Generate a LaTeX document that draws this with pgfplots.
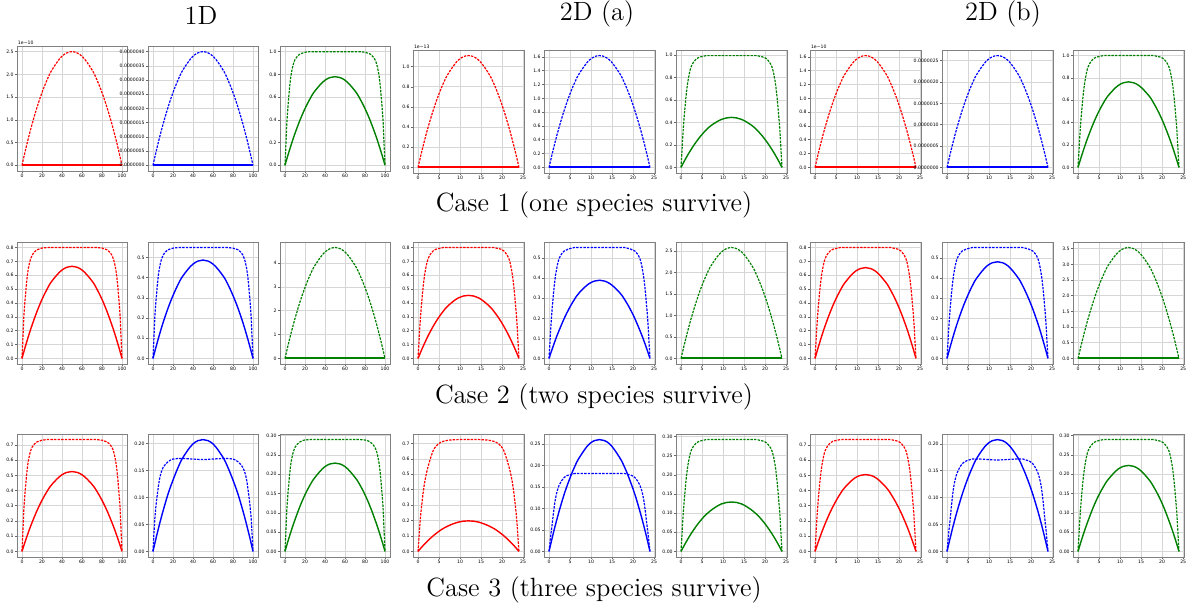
\documentclass[border=0pt]{standalone}
\usepackage{fontspec}
\usepackage{pgfplots}
\pgfplotsset{compat=1.18}
\usepackage{pgfplotstable}
\newfontfamily\tickfam{DejaVu Sans}
\newcommand\tickfont{\tickfam\fontsize{2.3}{2.8}\selectfont}
\newcommand\capfont{\fontsize{13.2}{15}\selectfont}
\definecolor{cr}{rgb}{1,0,0}
\definecolor{cb}{rgb}{0,0,1}
\definecolor{cg}{rgb}{0,0.5,0}

% row 1, 1D
\pgfplotstableread{
x rd bd gd gs
0 0 0 0 0
1 0.099 0.158 0.2 0.031
2 0.196 0.314 0.4 0.061
3 0.291 0.466 0.52 0.091
5 0.475 0.76 0.72 0.148
7 0.651 1.042 0.84 0.203
10 0.9 1.44 0.93 0.281
15 1.275 2.04 0.98 0.398
20 1.6 2.56 0.995 0.499
25 1.875 3.0 1 0.585
30 2.1 3.36 1 0.655
40 2.4 3.84 1 0.749
50 2.5 4.0 1 0.78
60 2.4 3.84 1 0.749
70 2.1 3.36 1 0.655
75 1.875 3.0 1 0.585
80 1.6 2.56 0.995 0.499
85 1.275 2.04 0.98 0.398
90 0.9 1.44 0.93 0.281
93 0.651 1.042 0.84 0.203
95 0.475 0.76 0.72 0.148
97 0.291 0.466 0.52 0.091
98 0.196 0.314 0.4 0.061
99 0.099 0.158 0.2 0.031
100 0 0 0 0
}\tA
% row 1, 2D (a)
\pgfplotstableread{
x rd bd gd gs
0 0 0 0 0
0.24 0.044 0.064 0.159 0.0176
0.48 0.087 0.127 0.318 0.0349
0.72 0.129 0.189 0.438 0.0518
1.2 0.211 0.308 0.637 0.0846
1.68 0.289 0.422 0.776 0.116
2.4 0.4 0.583 0.896 0.16
3.6 0.566 0.826 0.965 0.227
4.8 0.71 1.037 0.985 0.285
6 0.833 1.215 0.995 0.334
7.2 0.932 1.361 0.995 0.374
9.6 1.066 1.555 0.995 0.427
12 1.11 1.62 0.995 0.445
14.4 1.066 1.555 0.995 0.427
16.8 0.932 1.361 0.995 0.374
18 0.833 1.215 0.995 0.334
19.2 0.71 1.037 0.985 0.285
20.4 0.566 0.826 0.965 0.227
21.6 0.4 0.583 0.896 0.16
22.32 0.289 0.422 0.776 0.116
22.8 0.211 0.308 0.637 0.0846
23.28 0.129 0.189 0.438 0.0518
23.52 0.087 0.127 0.318 0.0349
23.76 0.044 0.064 0.159 0.0176
24 0 0 0 0
}\tB
% row 1, 2D (b)
\pgfplotstableread{
x rd bd gd gs
0 0 0 0 0
0.24 0.064 0.104 0.16 0.0303
0.48 0.127 0.205 0.32 0.06
0.72 0.189 0.305 0.44 0.089
1.2 0.308 0.498 0.64 0.145
1.68 0.422 0.682 0.78 0.199
2.4 0.583 0.943 0.9 0.275
3.6 0.826 1.336 0.97 0.39
4.8 1.037 1.677 0.99 0.49
6 1.215 1.965 1 0.574
7.2 1.361 2.201 1 0.643
9.6 1.555 2.515 1 0.734
12 1.62 2.62 1 0.765
14.4 1.555 2.515 1 0.734
16.8 1.361 2.201 1 0.643
18 1.215 1.965 1 0.574
19.2 1.037 1.677 0.99 0.49
20.4 0.826 1.336 0.97 0.39
21.6 0.583 0.943 0.9 0.275
22.32 0.422 0.682 0.78 0.199
22.8 0.308 0.498 0.64 0.145
23.28 0.189 0.305 0.44 0.089
23.52 0.127 0.205 0.32 0.06
23.76 0.064 0.104 0.16 0.0303
24 0 0 0 0
}\tC
% row 2, 1D
\pgfplotstableread{
x rd rs bd bs gd
0 0 0 0 0 0
1 0.16 0.0263 0.11 0.0193 0.184
2 0.32 0.0521 0.22 0.0383 0.365
3 0.416 0.0774 0.286 0.0568 0.541
5 0.576 0.126 0.396 0.0927 0.884
7 0.672 0.173 0.462 0.127 1.211
10 0.744 0.239 0.512 0.176 1.674
15 0.784 0.339 0.539 0.249 2.372
20 0.796 0.426 0.547 0.312 2.976
25 0.8 0.499 0.55 0.366 3.488
30 0.8 0.559 0.55 0.41 3.906
40 0.8 0.638 0.55 0.468 4.464
50 0.8 0.665 0.55 0.488 4.65
60 0.8 0.638 0.55 0.468 4.464
70 0.8 0.559 0.55 0.41 3.906
75 0.8 0.499 0.55 0.366 3.488
80 0.796 0.426 0.547 0.312 2.976
85 0.784 0.339 0.539 0.249 2.372
90 0.744 0.239 0.512 0.176 1.674
93 0.672 0.173 0.462 0.127 1.211
95 0.576 0.126 0.396 0.0927 0.884
97 0.416 0.0774 0.286 0.0568 0.541
98 0.32 0.0521 0.22 0.0383 0.365
99 0.16 0.0263 0.11 0.0193 0.184
100 0 0 0 0 0
}\tD
% row 2, 2D (a)
\pgfplotstableread{
x rd rs bd bs gd
0 0 0 0 0 0
0.24 0.128 0.018 0.0885 0.0154 0.102
0.48 0.256 0.0357 0.177 0.0306 0.202
0.72 0.352 0.053 0.243 0.0454 0.3
1.2 0.512 0.0865 0.354 0.0741 0.49
1.68 0.624 0.118 0.431 0.102 0.672
2.4 0.72 0.164 0.498 0.14 0.929
3.6 0.776 0.232 0.536 0.199 1.316
4.8 0.792 0.291 0.547 0.25 1.651
6 0.8 0.341 0.553 0.293 1.935
7.2 0.8 0.382 0.553 0.328 2.167
9.6 0.8 0.437 0.553 0.374 2.477
12 0.8 0.455 0.553 0.39 2.58
14.4 0.8 0.437 0.553 0.374 2.477
16.8 0.8 0.382 0.553 0.328 2.167
18 0.8 0.341 0.553 0.293 1.935
19.2 0.792 0.291 0.547 0.25 1.651
20.4 0.776 0.232 0.536 0.199 1.316
21.6 0.72 0.164 0.498 0.14 0.929
22.32 0.624 0.118 0.431 0.102 0.672
22.8 0.512 0.0865 0.354 0.0741 0.49
23.28 0.352 0.053 0.243 0.0454 0.3
23.52 0.256 0.0357 0.177 0.0306 0.202
23.76 0.128 0.018 0.0885 0.0154 0.102
24 0 0 0 0 0
}\tE
% row 2, 2D (b)
\pgfplotstableread{
x rd rs bd bs gd
0 0 0 0 0 0
0.24 0.128 0.0259 0.0885 0.0191 0.14
0.48 0.256 0.0514 0.177 0.0378 0.278
0.72 0.352 0.0762 0.243 0.0561 0.412
1.2 0.512 0.124 0.354 0.0916 0.673
1.68 0.624 0.171 0.431 0.126 0.922
2.4 0.72 0.236 0.498 0.174 1.274
3.6 0.776 0.334 0.536 0.246 1.805
4.8 0.792 0.419 0.547 0.308 2.266
6 0.8 0.491 0.553 0.362 2.655
7.2 0.8 0.55 0.553 0.405 2.974
9.6 0.8 0.629 0.553 0.463 3.398
12 0.8 0.655 0.553 0.482 3.54
14.4 0.8 0.629 0.553 0.463 3.398
16.8 0.8 0.55 0.553 0.405 2.974
18 0.8 0.491 0.553 0.362 2.655
19.2 0.792 0.419 0.547 0.308 2.266
20.4 0.776 0.334 0.536 0.246 1.805
21.6 0.72 0.236 0.498 0.174 1.274
22.32 0.624 0.171 0.431 0.126 0.922
22.8 0.512 0.124 0.354 0.0916 0.673
23.28 0.352 0.0762 0.243 0.0561 0.412
23.52 0.256 0.0514 0.177 0.0378 0.278
23.76 0.128 0.0259 0.0885 0.0191 0.14
24 0 0 0 0 0
}\tF
% row 3, 1D
\pgfplotstableread{
x rd rs bd bs gd gs
0 0 0 0 0 0 0
1 0.147 0.0208 0.035 0.0082 0.058 0.0091
2 0.294 0.0412 0.065 0.0162 0.116 0.018
3 0.382 0.0611 0.085 0.0241 0.151 0.0267
5 0.529 0.0998 0.115 0.0393 0.209 0.0435
7 0.617 0.137 0.138 0.0539 0.244 0.0596
10 0.684 0.189 0.155 0.0745 0.27 0.0824
15 0.72 0.268 0.166 0.106 0.284 0.117
20 0.731 0.336 0.171 0.132 0.289 0.147
25 0.735 0.394 0.172 0.155 0.29 0.172
30 0.735 0.441 0.172 0.174 0.29 0.192
40 0.735 0.504 0.171 0.199 0.29 0.22
50 0.735 0.525 0.17 0.207 0.29 0.229
60 0.735 0.504 0.171 0.199 0.29 0.22
70 0.735 0.441 0.172 0.174 0.29 0.192
75 0.735 0.394 0.172 0.155 0.29 0.172
80 0.731 0.336 0.171 0.132 0.289 0.147
85 0.72 0.268 0.166 0.106 0.284 0.117
90 0.684 0.189 0.155 0.0745 0.27 0.0824
93 0.617 0.137 0.138 0.0539 0.244 0.0596
95 0.529 0.0998 0.115 0.0393 0.209 0.0435
97 0.382 0.0611 0.085 0.0241 0.151 0.0267
98 0.294 0.0412 0.065 0.0162 0.116 0.018
99 0.147 0.0208 0.035 0.0082 0.058 0.0091
100 0 0 0 0 0 0
}\tG
% row 3, 2D (a)
\pgfplotstableread{
x rd rs bd bs gd gs
0 0 0 0 0 0 0
0.24 0.094 0.0078 0.0217 0.0103 0.0467 0.0051
0.48 0.189 0.0155 0.0434 0.0204 0.0934 0.0101
0.72 0.261 0.023 0.0615 0.0303 0.128 0.015
1.2 0.377 0.0376 0.101 0.0494 0.187 0.0245
1.68 0.464 0.0516 0.13 0.0677 0.228 0.0336
2.4 0.551 0.0713 0.154 0.0936 0.263 0.0464
3.6 0.653 0.101 0.172 0.133 0.283 0.0658
4.8 0.696 0.127 0.178 0.166 0.289 0.0826
6 0.714 0.149 0.181 0.195 0.292 0.0968
7.2 0.721 0.166 0.181 0.218 0.292 0.108
9.6 0.725 0.19 0.181 0.25 0.292 0.124
12 0.725 0.198 0.181 0.26 0.292 0.129
14.4 0.725 0.19 0.181 0.25 0.292 0.124
16.8 0.721 0.166 0.181 0.218 0.292 0.108
18 0.714 0.149 0.181 0.195 0.292 0.0968
19.2 0.696 0.127 0.178 0.166 0.289 0.0826
20.4 0.653 0.101 0.172 0.133 0.283 0.0658
21.6 0.551 0.0713 0.154 0.0936 0.263 0.0464
22.32 0.464 0.0516 0.13 0.0677 0.228 0.0336
22.8 0.377 0.0376 0.101 0.0494 0.187 0.0245
23.28 0.261 0.023 0.0615 0.0303 0.128 0.015
23.52 0.189 0.0155 0.0434 0.0204 0.0934 0.0101
23.76 0.094 0.0078 0.0217 0.0103 0.0467 0.0051
24 0 0 0 0 0 0
}\tH
% row 3, 2D (b)
\pgfplotstableread{
x rd rs bd bs gd gs
0 0 0 0 0 0 0
0.24 0.118 0.02 0.0206 0.0082 0.0464 0.0088
0.48 0.235 0.0396 0.0413 0.0163 0.0928 0.0175
0.72 0.323 0.0588 0.0585 0.0242 0.128 0.026
1.2 0.47 0.096 0.0963 0.0395 0.186 0.0424
1.68 0.573 0.132 0.124 0.0542 0.226 0.0581
2.4 0.662 0.182 0.146 0.0749 0.261 0.08
3.6 0.713 0.258 0.163 0.106 0.281 0.114
4.8 0.728 0.323 0.169 0.133 0.287 0.143
6 0.735 0.379 0.172 0.156 0.29 0.167
7.2 0.735 0.424 0.172 0.175 0.29 0.187
9.6 0.735 0.485 0.171 0.2 0.29 0.214
12 0.735 0.505 0.17 0.208 0.29 0.223
14.4 0.735 0.485 0.171 0.2 0.29 0.214
16.8 0.735 0.424 0.172 0.175 0.29 0.187
18 0.735 0.379 0.172 0.156 0.29 0.167
19.2 0.728 0.323 0.169 0.133 0.287 0.143
20.4 0.713 0.258 0.163 0.106 0.281 0.114
21.6 0.662 0.182 0.146 0.0749 0.261 0.08
22.32 0.573 0.132 0.124 0.0542 0.226 0.0581
22.8 0.47 0.096 0.0963 0.0395 0.186 0.0424
23.28 0.323 0.0588 0.0585 0.0242 0.128 0.026
23.52 0.235 0.0396 0.0413 0.0163 0.0928 0.0175
23.76 0.118 0.02 0.0206 0.0082 0.0464 0.0088
24 0 0 0 0 0 0
}\tI

\pgfplotsset{
  panel/.style={
    scale only axis, anchor=north west, clip=false,
    axis line style={black!50, line width=0.4pt},
    grid=major, major grid style={black!16, line width=0.35pt},
    tick align=outside, major tick length=1pt,
    tick style={black!60, line width=0.3pt},
    xtick pos=lower, ytick pos=left,
    tick label style={font=\tickfont, inner sep=0.5pt},
    /pgf/number format/assume math mode=true,
    scaled ticks=false,
    every axis plot/.append style={line width=0.7pt, smooth, tension=0.6},
  },
  od/.style={panel, width=55pt, xmin=-5, xmax=105, xtick={0,20,40,60,80,100}},
  td/.style={panel, width=55.5pt, xmin=-1.2, xmax=25.2, xtick={0,5,10,15,20,25}},
  prec0/.style={yticklabel style={/pgf/number format/fixed, /pgf/number format/precision=0}},
  prec1/.style={yticklabel style={/pgf/number format/fixed, /pgf/number format/fixed zerofill, /pgf/number format/precision=1}},
  prec2/.style={yticklabel style={/pgf/number format/fixed, /pgf/number format/fixed zerofill, /pgf/number format/precision=2}},
}
\tikzset{
  dsh/.style={line width=0.6pt, dash pattern=on 1.2pt off 0.6pt},
  offs/.style={anchor=south west, font=\tickfont, inner sep=0.3pt},
  zl/.style={draw=#1, line width=1pt, sharp plot},
}

\begin{document}
\begin{tikzpicture}
\path[use as bounding box] (0,0) rectangle (594.5pt,305pt);

% ---------------- row 1 ----------------
\begin{axis}[od, at={(8.5pt,282pt)}, height=62.5pt, ymin=-0.125, ymax=2.625, ytick={0,0.5,1,1.5,2,2.5}, prec1]
\addplot[cr, dsh] table[y=rd]{\tA};
\addplot[zl=red] coordinates {(0,0) (100,0)};
\node[offs] at (rel axis cs:0,1) {1e−10};
\end{axis}
\begin{axis}[od, at={(74pt,282pt)}, height=62.5pt, ymin=-0.2, ymax=4.2, ytick={0,0.5,1,1.5,2,2.5,3,3.5,4},
  yticklabels={0.0000000,0.0000005,0.0000010,0.0000015,0.0000020,0.0000025,0.0000030,0.0000035,0.0000040}]
\addplot[cb, dsh] table[y=bd]{\tA};
\addplot[zl=blue] coordinates {(0,0) (100,0)};
\end{axis}
\begin{axis}[od, at={(140pt,282pt)}, height=62.5pt, ymin=-0.05, ymax=1.05, ytick={0,0.2,0.4,0.6,0.8,1}, prec1]
\addplot[cg, dsh] table[y=gd]{\tA};
\addplot[cg] table[y=gs]{\tA};
\end{axis}

\begin{axis}[td, at={(206.5pt,280pt)}, height=61.5pt, ymin=-0.0555, ymax=1.1655, ytick={0,0.2,0.4,0.6,0.8,1}, prec1]
\addplot[cr, dsh] table[y=rd]{\tB};
\addplot[zl=red] coordinates {(0,0) (24,0)};
\node[offs] at (rel axis cs:0,1) {1e−13};
\end{axis}
\begin{axis}[td, at={(272pt,280pt)}, height=61.5pt, ymin=-0.081, ymax=1.701, ytick={0,0.2,0.4,0.6,0.8,1,1.2,1.4,1.6}, prec1]
\addplot[cb, dsh] table[y=bd]{\tB};
\addplot[zl=blue] coordinates {(0,0) (24,0)};
\end{axis}
\begin{axis}[td, at={(338pt,280pt)}, height=61.5pt, ymin=-0.05, ymax=1.045, ytick={0,0.2,0.4,0.6,0.8,1}, prec1]
\addplot[cg, dsh] table[y=gd]{\tB};
\addplot[cg] table[y=gs]{\tB};
\end{axis}

\begin{axis}[td, at={(405pt,280pt)}, height=61.5pt, ymin=-0.081, ymax=1.701, ytick={0,0.2,0.4,0.6,0.8,1,1.2,1.4,1.6}, prec1]
\addplot[cr, dsh] table[y=rd]{\tC};
\addplot[zl=red] coordinates {(0,0) (24,0)};
\node[offs] at (rel axis cs:0,1) {1e−10};
\end{axis}
\begin{axis}[td, at={(471pt,280pt)}, height=61.5pt, ymin=-0.131, ymax=2.751, ytick={0,0.5,1,1.5,2,2.5},
  yticklabels={0.0000000,0.0000005,0.0000010,0.0000015,0.0000020,0.0000025}]
\addplot[cb, dsh] table[y=bd]{\tC};
\addplot[zl=blue] coordinates {(0,0) (24,0)};
\end{axis}
\begin{axis}[td, at={(536.5pt,280pt)}, height=61.5pt, ymin=-0.05, ymax=1.05, ytick={0,0.2,0.4,0.6,0.8,1}, prec1]
\addplot[cg, dsh] table[y=gd]{\tC};
\addplot[cg] table[y=gs]{\tC};
\end{axis}

% ---------------- row 2 ----------------
\begin{axis}[od, at={(8.5pt,184pt)}, height=61pt, ymin=-0.04, ymax=0.84, ytick={0,0.1,0.2,0.3,0.4,0.5,0.6,0.7,0.8}, prec1]
\addplot[cr, dsh] table[y=rd]{\tD};
\addplot[cr] table[y=rs]{\tD};
\end{axis}
\begin{axis}[od, at={(74pt,184pt)}, height=61pt, ymin=-0.0275, ymax=0.5775, ytick={0,0.1,0.2,0.3,0.4,0.5}, prec1]
\addplot[cb, dsh] table[y=bd]{\tD};
\addplot[cb] table[y=bs]{\tD};
\end{axis}
\begin{axis}[od, at={(140pt,184pt)}, height=61pt, ymin=-0.2325, ymax=4.8825, ytick={0,1,2,3,4}, prec0]
\addplot[cg, dsh] table[y=gd]{\tD};
\addplot[zl=cg] coordinates {(0,0) (100,0)};
\end{axis}

\begin{axis}[td, at={(206.5pt,184pt)}, height=61pt, ymin=-0.04, ymax=0.84, ytick={0,0.1,0.2,0.3,0.4,0.5,0.6,0.7,0.8}, prec1]
\addplot[cr, dsh] table[y=rd]{\tE};
\addplot[cr] table[y=rs]{\tE};
\end{axis}
\begin{axis}[td, at={(272pt,184pt)}, height=61pt, ymin=-0.0277, ymax=0.5807, ytick={0,0.1,0.2,0.3,0.4,0.5}, prec1]
\addplot[cb, dsh] table[y=bd]{\tE};
\addplot[cb] table[y=bs]{\tE};
\end{axis}
\begin{axis}[td, at={(338pt,184pt)}, height=61pt, ymin=-0.129, ymax=2.709, ytick={0,0.5,1,1.5,2,2.5}, prec1]
\addplot[cg, dsh] table[y=gd]{\tE};
\addplot[zl=cg] coordinates {(0,0) (24,0)};
\end{axis}

\begin{axis}[td, at={(405pt,184pt)}, height=61pt, ymin=-0.04, ymax=0.84, ytick={0,0.1,0.2,0.3,0.4,0.5,0.6,0.7,0.8}, prec1]
\addplot[cr, dsh] table[y=rd]{\tF};
\addplot[cr] table[y=rs]{\tF};
\end{axis}
\begin{axis}[td, at={(471pt,184pt)}, height=61pt, ymin=-0.0277, ymax=0.5807, ytick={0,0.1,0.2,0.3,0.4,0.5}, prec1]
\addplot[cb, dsh] table[y=bd]{\tF};
\addplot[cb] table[y=bs]{\tF};
\end{axis}
\begin{axis}[td, at={(536.5pt,184pt)}, height=61pt, ymin=-0.177, ymax=3.717, ytick={0,0.5,1,1.5,2,2.5,3,3.5}, prec1]
\addplot[cg, dsh] table[y=gd]{\tF};
\addplot[zl=cg] coordinates {(0,0) (24,0)};
\end{axis}

% ---------------- row 3 ----------------
\begin{axis}[od, at={(8.5pt,88pt)}, height=61.5pt, ymin=-0.0368, ymax=0.7718, ytick={0,0.1,0.2,0.3,0.4,0.5,0.6,0.7}, prec1]
\addplot[cr, dsh] table[y=rd]{\tG};
\addplot[cr] table[y=rs]{\tG};
\end{axis}
\begin{axis}[od, at={(74pt,88pt)}, height=61.5pt, ymin=-0.01035, ymax=0.21735, ytick={0,0.05,0.1,0.15,0.2}, prec2]
\addplot[cb, dsh] table[y=bd]{\tG};
\addplot[cb] table[y=bs]{\tG};
\end{axis}
\begin{axis}[od, at={(140pt,88pt)}, height=61.5pt, ymin=-0.0145, ymax=0.3045, ytick={0,0.05,0.1,0.15,0.2,0.25,0.3}, prec2]
\addplot[cg, dsh] table[y=gd]{\tG};
\addplot[cg] table[y=gs]{\tG};
\end{axis}

\begin{axis}[td, at={(206.5pt,88pt)}, height=61.5pt, ymin=-0.03625, ymax=0.76125, ytick={0,0.1,0.2,0.3,0.4,0.5,0.6,0.7}, prec1]
\addplot[cr, dsh] table[y=rd]{\tH};
\addplot[cr] table[y=rs]{\tH};
\end{axis}
\begin{axis}[td, at={(272pt,88pt)}, height=61.5pt, ymin=-0.013, ymax=0.273, ytick={0,0.05,0.1,0.15,0.2,0.25}, prec2]
\addplot[cb, dsh] table[y=bd]{\tH};
\addplot[cb] table[y=bs]{\tH};
\end{axis}
\begin{axis}[td, at={(338pt,88pt)}, height=61.5pt, ymin=-0.0146, ymax=0.3066, ytick={0,0.05,0.1,0.15,0.2,0.25,0.3}, prec2]
\addplot[cg, dsh] table[y=gd]{\tH};
\addplot[cg] table[y=gs]{\tH};
\end{axis}

\begin{axis}[td, at={(405pt,88pt)}, height=61.5pt, ymin=-0.0368, ymax=0.7718, ytick={0,0.1,0.2,0.3,0.4,0.5,0.6,0.7}, prec1]
\addplot[cr, dsh] table[y=rd]{\tI};
\addplot[cr] table[y=rs]{\tI};
\end{axis}
\begin{axis}[td, at={(471pt,88pt)}, height=61.5pt, ymin=-0.0104, ymax=0.2184, ytick={0,0.05,0.1,0.15,0.2}, prec2]
\addplot[cb, dsh] table[y=bd]{\tI};
\addplot[cb] table[y=bs]{\tI};
\end{axis}
\begin{axis}[td, at={(536.5pt,88pt)}, height=61.5pt, ymin=-0.0145, ymax=0.3045, ytick={0,0.05,0.1,0.15,0.2,0.25,0.3}, prec2]
\addplot[cg, dsh] table[y=gd]{\tI};
\addplot[cg] table[y=gs]{\tI};
\end{axis}

% headers and captions
\node[font=\capfont] at (100.5pt,297.5pt) {1D};
\node[font=\capfont] at (298.5pt,298pt) {2D (a)};
\node[font=\capfont] at (501.5pt,298pt) {2D (b)};
\node[font=\capfont] at (297pt,202.5pt) {Case 1 (one species survive)};
\node[font=\capfont] at (297pt,106.5pt) {Case 2 (two species survive)};
\node[font=\capfont] at (297pt,10pt) {Case 3 (three species survive)};
\end{tikzpicture}
\end{document}
